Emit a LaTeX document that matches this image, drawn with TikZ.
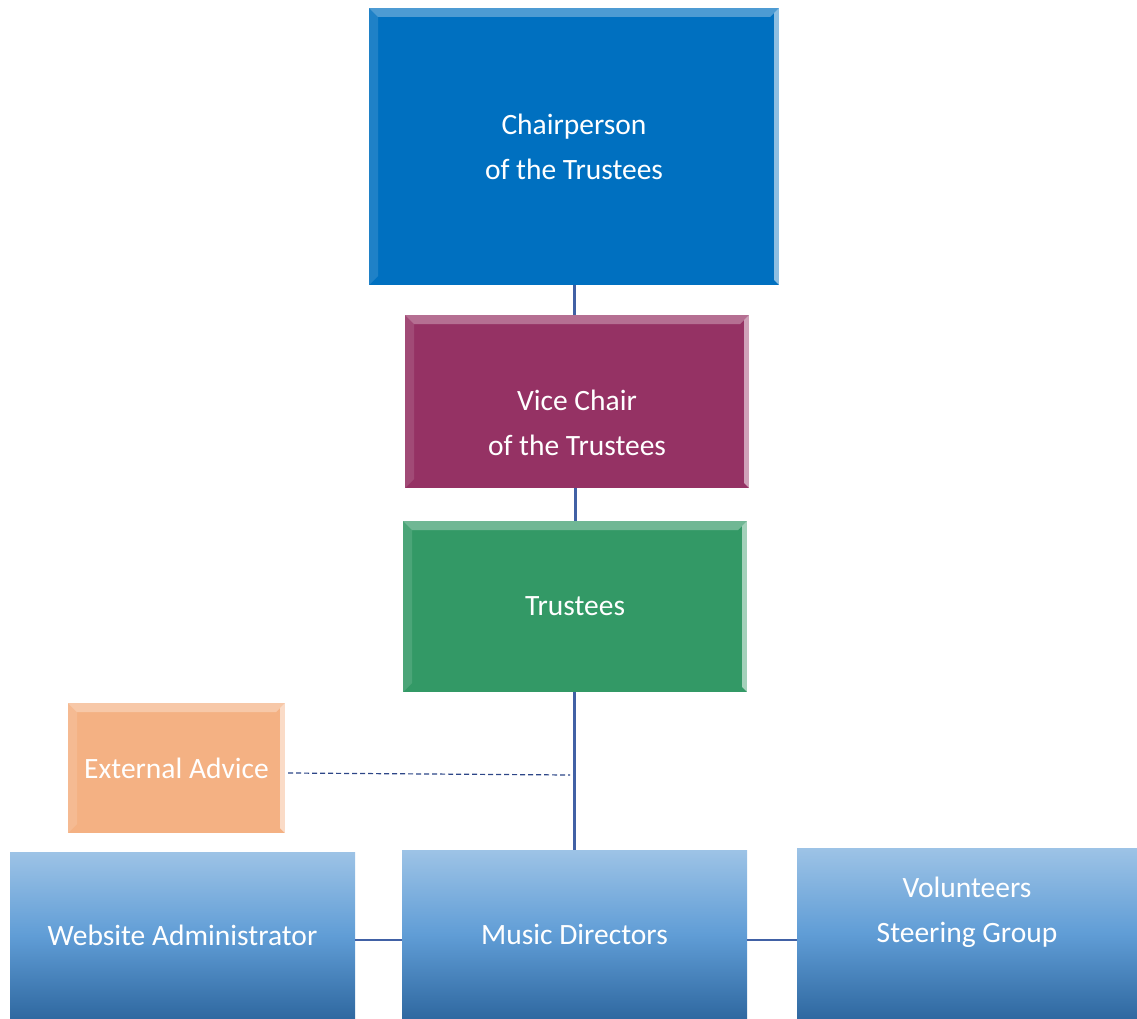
\documentclass[tikz,border=0pt]{standalone}
\usepackage{fontspec}
\setmainfont{Carlito}
\usetikzlibrary{calc}
\definecolor{chairblue}{RGB}{0,112,192}
\definecolor{vicered}{RGB}{149,50,100}
\definecolor{trustgreen}{RGB}{51,153,102}
\definecolor{advorange}{RGB}{244,177,131}
\definecolor{toplight}{RGB}{157,195,230}
\definecolor{midblue}{RGB}{96,157,214}
\definecolor{botdark}{RGB}{47,104,160}
\definecolor{linkblue}{RGB}{65,97,165}
\definecolor{dashnavy}{RGB}{45,70,135}
\tikzset{
  bevel/.style={path picture={
    \fill[white,opacity=.3] (path picture bounding box.north west) --
      (path picture bounding box.north east) --
      ([xshift=-9pt,yshift=-9pt]path picture bounding box.north east) --
      ([xshift=9pt,yshift=-9pt]path picture bounding box.north west) -- cycle;
    \fill[white,opacity=.12] (path picture bounding box.north west) --
      ([xshift=9pt,yshift=-9pt]path picture bounding box.north west) --
      ([xshift=9pt,yshift=9pt]path picture bounding box.south west) --
      (path picture bounding box.south west) -- cycle;
    \fill[white,opacity=.55] (path picture bounding box.north east) --
      ([xshift=-5pt,yshift=-5pt]path picture bounding box.north east) --
      ([xshift=-5pt,yshift=5pt]path picture bounding box.south east) --
      (path picture bounding box.south east) -- cycle;}},
  post/.style={rectangle, bevel, text=white, align=center, inner sep=0pt,
    font=\fontsize{29.5}{45}\selectfont},
  staff/.style={rectangle, top color=toplight, bottom color=botdark,
    middle color=midblue, text=white, align=center, inner sep=0pt,
    font=\fontsize{29.5}{45}\selectfont},
  link/.style={draw=linkblue, line width=3pt},
  thinlink/.style={draw=linkblue, line width=1.5pt}
}

\begin{document}
\begin{tikzpicture}[x=1pt,y=-1pt]
  \useasboundingbox (0,0) rectangle (1137,1019);
  % top of the chart
  \node[post, fill=chairblue, minimum width=410pt, minimum height=277pt]
    (chair) at (574,146.5) {Chairperson\\of the Trustees};
  \node[post, fill=vicered, minimum width=344pt, minimum height=173pt]
    (vice) at (577,401.5) {\strut\\Vice Chair\\of the Trustees\strut};
  \node[post, fill=trustgreen, minimum width=344pt, minimum height=171pt]
    (trust) at (575,606.5) {Trustees};
  \node[post, fill=advorange, minimum width=217pt, minimum height=130pt]
    (advice) at (176.5,768) {External Advice};
  % bottom row
  \node[staff, minimum width=345pt, minimum height=167pt]
    (web) at (182.5,935.5) {\raisebox{-3pt}{Website Administrator}};
  \node[staff, minimum width=345pt, minimum height=169pt]
    (music) at (574.5,934.5) {Music Directors};
  \node[staff, minimum width=340pt, minimum height=171pt]
    (vol) at (967,933.5) {\strut Volunteers\\Steering Group\\\strut};
  % links
  \draw[link] (chair.south -| 574,0) -- (vice.north -| 574,0);
  \draw[link] (vice.south -| 575,0) -- (trust.north -| 575,0);
  \draw[link] (trust.south -| 574,0) -- (music.north -| 574,0);
  \coordinate (adv end) at (advice.east -| 570,0);
  \draw[dashnavy, line width=1.2pt, dash pattern=on 5pt off 3pt]
    ([xshift=3pt,yshift=-5pt]advice.east) -- ([yshift=-7pt]adv end);
  \draw[thinlink] (web.east |- 0,940) -- (music.west |- 0,940);
  \draw[thinlink] (music.east |- 0,940) -- (vol.west |- 0,940);
\end{tikzpicture}
\end{document}
